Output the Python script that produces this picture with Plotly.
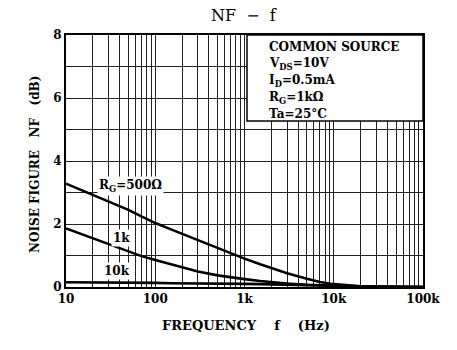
import plotly.graph_objects as go

# ---- data ----
freq = [10, 15, 20, 30, 50, 70, 100, 150, 200, 300, 500, 700, 1000, 1500, 2000, 3000,
        5000, 7000, 10000, 15000, 20000, 30000, 50000, 100000]
nf_500 = [3.28, 3.07, 2.92, 2.70, 2.45, 2.24, 2.03, 1.83, 1.69, 1.49, 1.24, 1.06, 0.90,
          0.72, 0.60, 0.44, 0.26, 0.16, 0.09, 0.04, 0.02, 0.015, 0.01, 0.0]
nf_1k = [1.86, 1.68, 1.56, 1.37, 1.13, 0.98, 0.86, 0.72, 0.62, 0.49, 0.37, 0.30, 0.25,
         0.19, 0.15, 0.11, 0.07, 0.05, 0.03, 0.02, 0.01, 0.005, 0.0, 0.0]
nf_10k = [0.15, 0.15, 0.15, 0.14, 0.14, 0.13, 0.13, 0.12, 0.12, 0.11, 0.11, 0.10, 0.10,
          0.09, 0.08, 0.07, 0.06, 0.05, 0.04, 0.03, 0.02, 0.015, 0.01, 0.0]

x_tickvals = [m * 10 ** d for d in range(1, 5) for m in range(1, 10)] + [100000]
x_ticktext = ["10" if v == 10 else "100" if v == 100 else "1k" if v == 1000 else
              "10k" if v == 10000 else "100k" if v == 100000 else "" for v in x_tickvals]
y_tickvals = [0, 1, 2, 3, 4, 5, 6, 7, 8]
y_ticktext = ["0", "", "2", "", "4", "", "6", "", "8"]

legend_lines = ["COMMON SOURCE", "V<sub>DS</sub>=10V", "I<sub>D</sub>=0.5mA",
                "R<sub>G</sub>=1kΩ", "Ta=25°C"]
curve_labels = ["R<sub>G</sub>=500Ω", "1k", "10k"]

FONT = "DejaVu Serif"

fig = go.Figure()
for ys in (nf_500, nf_1k, nf_10k):
    fig.add_trace(go.Scatter(x=freq, y=ys, mode="lines", line=dict(color="black", width=2.6),
                             showlegend=False, hoverinfo="skip"))

W, H = 457, 350
L, R, T, B = 66, 34, 35, 63
pw, ph = W - L - R, H - T - B

def px(xp):
    return (xp - L) / pw

def py(yp):
    return (H - B - yp) / ph

fig.update_layout(
    width=W, height=H,
    margin=dict(l=L, r=R, t=T, b=B),
    paper_bgcolor="white", plot_bgcolor="white",
    font=dict(family=FONT, color="black"),
    xaxis=dict(type="log", range=[1, 5], tickvals=x_tickvals, ticktext=x_ticktext,
               showgrid=True, gridcolor="#222", gridwidth=1, ticks="",
               showline=True, linecolor="black", linewidth=2, mirror=True,
               tickfont=dict(size=12, weight="bold", family=FONT), zeroline=False),
    yaxis=dict(range=[0, 8], tickvals=y_tickvals, ticktext=y_ticktext,
               showgrid=True, gridcolor="#222", gridwidth=1, ticks="",
               showline=True, linecolor="black", linewidth=2, mirror=True,
               tickfont=dict(size=12, weight="bold", family=FONT), zeroline=False),
)

# legend box
fig.add_shape(type="rect", xref="paper", yref="paper", x0=px(247), x1=1, y0=py(121), y1=1,
              fillcolor="white", line=dict(color="black", width=1.5), layer="above")

legend_y = [47, 64, 81, 98, 114]
for txt, yy in zip(legend_lines, legend_y):
    fig.add_annotation(xref="paper", yref="paper", x=px(267), y=py(yy), text=txt, showarrow=False,
                       xanchor="left", yanchor="middle", font=dict(size=12, weight="bold", family=FONT))

# curve labels
label_pos = [(130, 186), (121, 238), (117, 271)]
for txt, (xx, yy) in zip(curve_labels, label_pos):
    fig.add_annotation(xref="paper", yref="paper", x=px(xx), y=py(yy), text=txt, showarrow=False,
                       xanchor="center", yanchor="middle", bgcolor="white",
                       font=dict(size=12, weight="bold", family=FONT))

# title and axis titles
fig.add_annotation(xref="paper", yref="paper", x=px(244), y=py(15), text="NF  −  f", showarrow=False,
                   xanchor="center", yanchor="middle", font=dict(size=16, family=FONT))
fig.add_annotation(xref="paper", yref="paper", x=px(246), y=py(325), text="FREQUENCY    f    (Hz)",
                   showarrow=False, xanchor="center", yanchor="middle",
                   font=dict(size=13, weight="bold", family=FONT))
fig.add_annotation(xref="paper", yref="paper", x=px(35), y=py(165), text="NOISE FIGURE   NF   (dB)",
                   showarrow=False, xanchor="center", yanchor="middle", textangle=-90,
                   font=dict(size=12, weight="bold", family=FONT))

fig.write_html("out.html")
